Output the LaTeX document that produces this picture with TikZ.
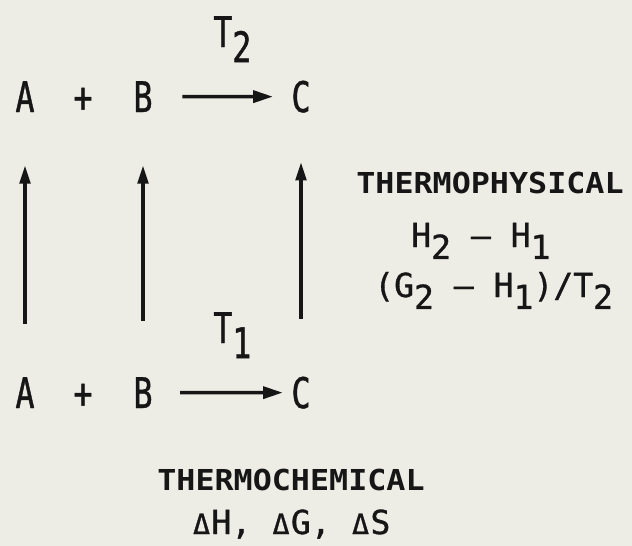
\documentclass[tikz,border=0pt]{standalone}
\usepackage{fontspec}
\usepackage{tikz}
\usetikzlibrary{arrows.meta,positioning}

\newfontfamily\narrowtype[FakeStretch=0.75,FakeBold=1]{DejaVu Sans Mono}
\newfontfamily\formulatype[FakeBold=1]{DejaVu Sans Mono}
\newfontfamily\headtype[FakeStretch=1.1]{DejaVu Sans Mono Bold}
\definecolor{paper}{RGB}{237,236,229}
\definecolor{ink}{RGB}{22,22,22}
\newcommand{\low}[1]{\raisebox{-0.36em}{#1}}
\newcommand{\tri}{\makebox[0.6em]{\fontsize{20}{20}\selectfont Δ}}

\begin{document}
\begin{tikzpicture}[
  x=0.025cm, y=-0.025cm,
  species/.style={inner sep=0pt, anchor=base, text=ink, font=\narrowtype\fontsize{30}{30}\selectfont},
  temp/.style={inner sep=0pt, anchor=base west, text=ink, font=\narrowtype\fontsize{30}{30}\selectfont},
  heading/.style={inner sep=0pt, anchor=base, text=ink, font=\headtype\fontsize{20.5}{22}\selectfont},
  formula/.style={inner sep=0pt, anchor=base west, text=ink, font=\formulatype\fontsize{23.5}{26}\selectfont},
  rxn/.style={-{Triangle[length=14pt,width=8.5pt]}, line width=2.5pt, draw=ink},
  rise/.style={-{Triangle[length=13pt,width=7.5pt]}, line width=2.5pt, draw=ink}
]
  \fill[paper] (0,0) rectangle (632,546);

  % upper level, T2
  \node[temp] (t2) at (213,47) {T\low{2}};
  \node[species] (a2) at (25,112) {A};
  \node[species] (p2) at (83,112) {+};
  \node[species] (b2) at (143,112) {B};
  \node[species] (c2) at (301,112) {C};
  \draw[rxn, shorten <=21pt, shorten >=13pt] (b2) -- (c2);

  % lower level, T1
  \node[temp] (t1) at (213,343) {T\low{1}};
  \node[species] (a1) at (25,408) {A};
  \node[species] (p1) at (83,408) {+};
  \node[species] (b1) at (143,408) {B};
  \node[species] (c1) at (301,408) {C};
  \draw[rxn, shorten <=19.5pt, shorten >=6pt] (b1) -- (c1);

  % heating paths
  \draw[rise, shorten <=38pt, shorten >=37.7pt] (a1) -- (a2);
  \draw[rise, shorten <=40pt, shorten >=37.7pt] (b1) -- (b2);
  \draw[rise, shorten <=41pt, shorten >=35pt] (c1) -- (c2);

  % labels
  \node[heading] (phys) at (490,193) {THERMOPHYSICAL};
  \node[formula] (dh) at (411,247) {H\low{2} – H\low{1}};
  \node[formula] (dg) at (374,297) {(G\low{2} – H\low{1})/T\low{2}};
  \node[heading] (chem) at (291,490) {THERMOCHEMICAL};
  \node[formula, anchor=base] (dchem) at (291,534) {\tri H, \tri G, \tri S};
\end{tikzpicture}
\end{document}
